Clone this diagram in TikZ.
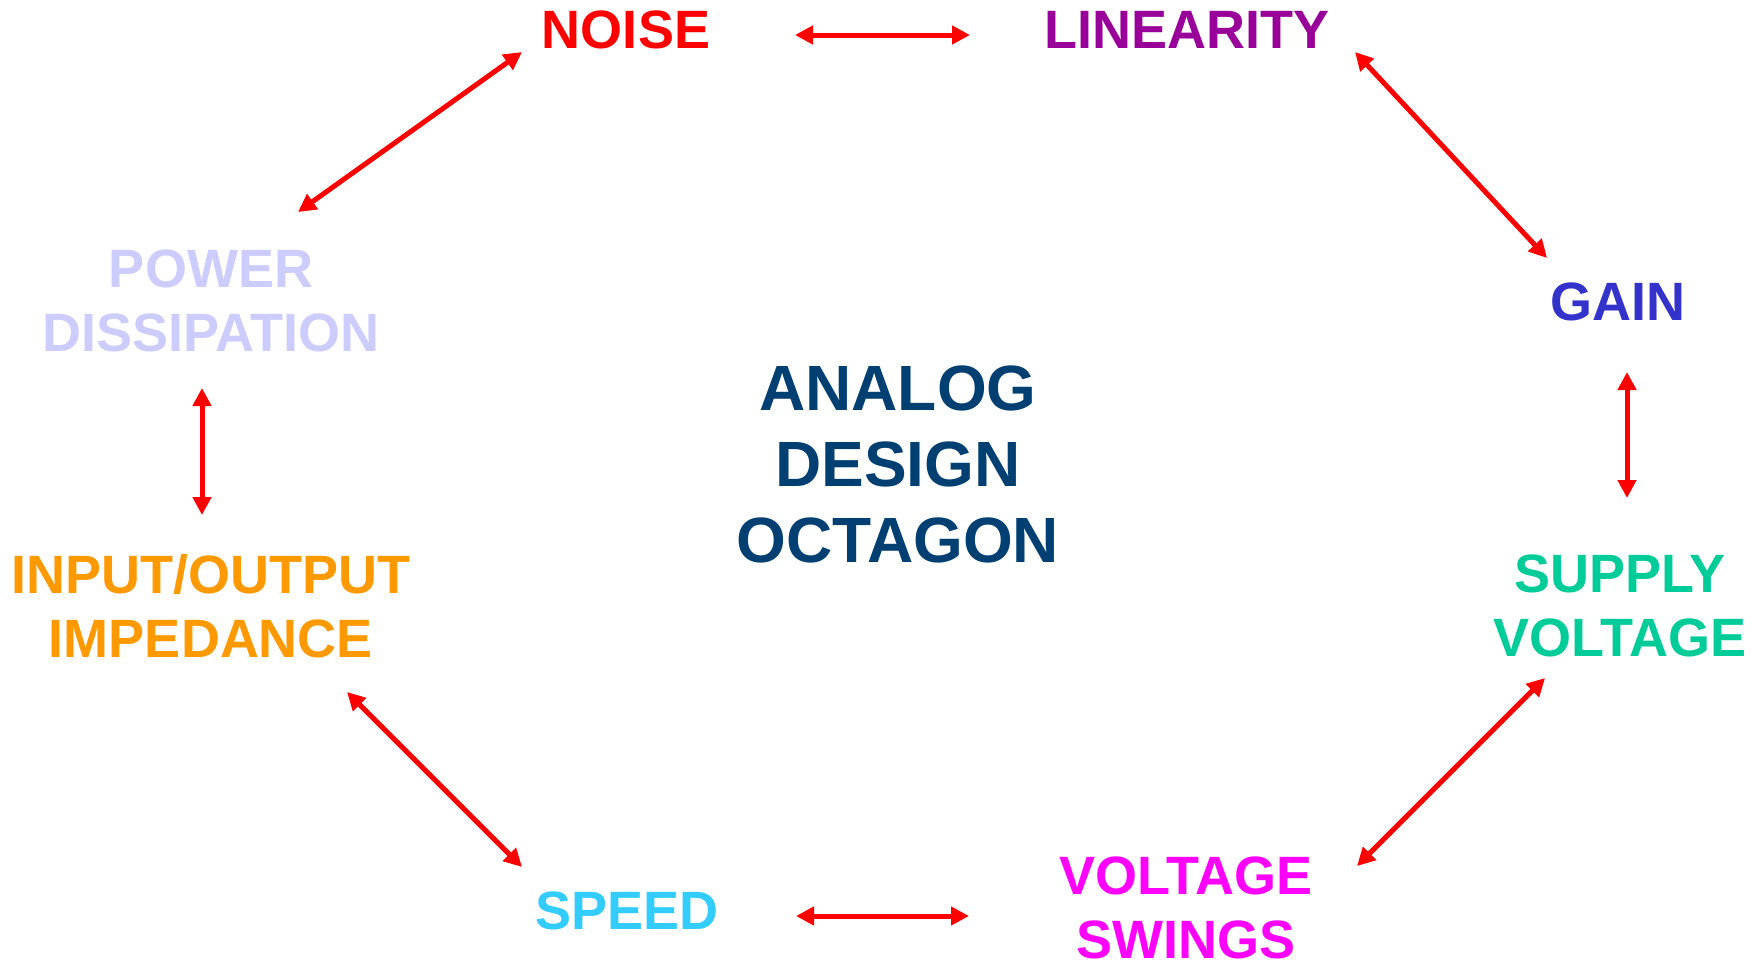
\documentclass[tikz,border=0pt]{standalone}
\usepackage{fontspec}
\setmainfont{Liberation Sans}
\usetikzlibrary{arrows.meta}
\definecolor{cnoise}{HTML}{FF0000}
\definecolor{clin}{HTML}{990099}
\definecolor{cgain}{HTML}{3333CC}
\definecolor{csupply}{HTML}{00CC99}
\definecolor{cswing}{HTML}{FF00FF}
\definecolor{cspeed}{HTML}{33CCFF}
\definecolor{cimp}{HTML}{FF9900}
\definecolor{cpower}{HTML}{CCCCFF}
\definecolor{ctitle}{HTML}{003F72}
\definecolor{carrow}{HTML}{FF0000}
\tikzset{
  lbl/.style={inner sep=0pt, align=center, font=\fontsize{54bp}{64bp}\selectfont\bfseries},
  ttl/.style={inner sep=0pt, align=center, font=\fontsize{64bp}{76bp}\selectfont\bfseries, text=ctitle},
  conn/.style={draw=carrow, line width=5bp, {Triangle[length=18bp,width=18bp]}-{Triangle[length=18bp,width=18bp]}}
}
\begin{document}
\begin{tikzpicture}[x=1bp,y=-1bp]
\useasboundingbox (0,0) rectangle (1762,965);
% concept nodes
\node[lbl, text=cnoise]  (noise)  at (626,30)   {NOISE};
\node[lbl, text=clin]    (lin)    at (1187,30)  {LINEARITY};
\node[lbl, text=cgain]   (gain)   at (1618,302) {GAIN};
\node[lbl, text=csupply] (supply) at (1620,606) {SUPPLY\\VOLTAGE};
\node[lbl, text=cswing]  (swings) at (1186,908) {VOLTAGE\\SWINGS};
\node[lbl, text=cspeed]  (speed)  at (627,911)  {SPEED};
\node[lbl, text=cimp]    (imp)    at (211,606)  {INPUT/OUTPUT\\IMPEDANCE};
\node[lbl, text=cpower]  (power)  at (211,301)  {POWER\\DISSIPATION};
\node[ttl] (title) at (898,464) {ANALOG\\DESIGN\\OCTAGON};
% connector ends
\coordinate (c1a) at (795,35);   \coordinate (c1b) at (970,35);
\coordinate (c2a) at (1355,52);  \coordinate (c2b) at (1547,258);
\coordinate (c3a) at (1627,372); \coordinate (c3b) at (1627,498);
\coordinate (c4a) at (1545,678); \coordinate (c4b) at (1357,866);
\coordinate (c5a) at (969,916);  \coordinate (c5b) at (796,916);
\coordinate (c6a) at (522,867);  \coordinate (c6b) at (347,692);
\coordinate (c7a) at (202,515);  \coordinate (c7b) at (202,388);
\coordinate (c8a) at (298,212);  \coordinate (c8b) at (522,52);
% connectors
\draw[conn] (c1a) -- (c1b);
\draw[conn] (c2a) -- (c2b);
\draw[conn] (c3a) -- (c3b);
\draw[conn] (c4a) -- (c4b);
\draw[conn] (c5a) -- (c5b);
\draw[conn] (c6a) -- (c6b);
\draw[conn] (c7a) -- (c7b);
\draw[conn] (c8a) -- (c8b);
\end{tikzpicture}
\end{document}
